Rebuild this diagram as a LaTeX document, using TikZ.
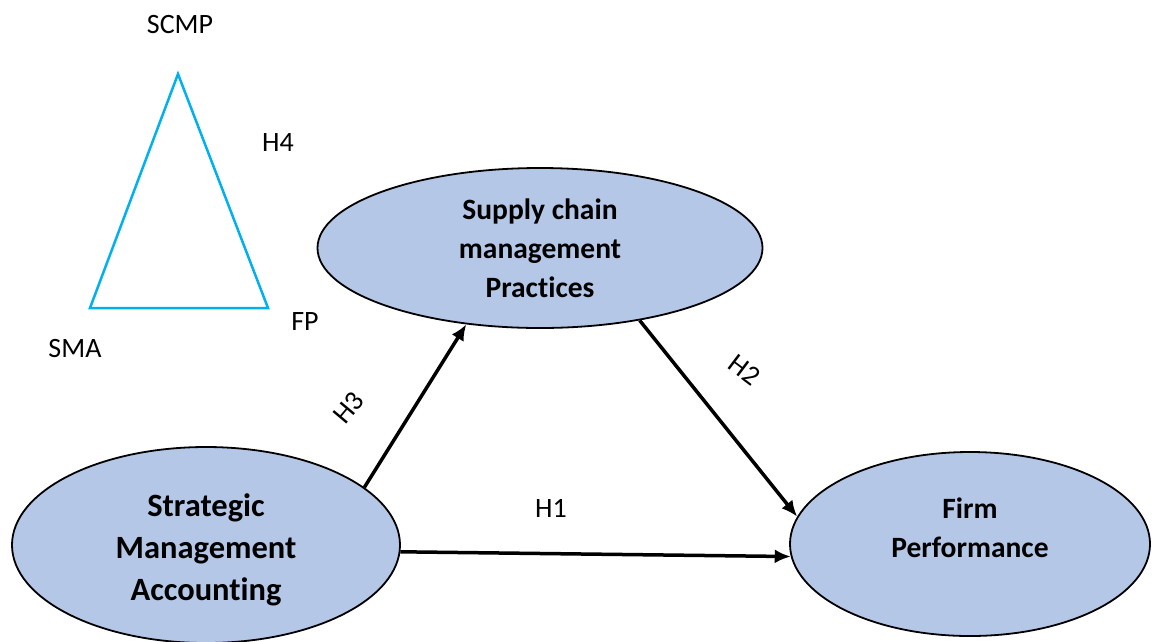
\documentclass[tikz,border=0pt]{standalone}
\usepackage{fontspec}
\setmainfont{Carlito}[Ligatures=NoCommon]
\usetikzlibrary{positioning,shapes.geometric,arrows.meta}
\definecolor{ovalfill}{RGB}{180,199,231}
\definecolor{tricyan}{RGB}{0,176,240}

\begin{document}
\begin{tikzpicture}[
  x=1pt, y=-1pt,
  var/.style={draw,ellipse,fill=ovalfill,line width=1.8pt,inner sep=0pt,align=center,
    font=\fontsize{29.5}{39}\selectfont\bfseries},
  big/.style={font=\fontsize{32.5}{42}\selectfont\bfseries},
  hyp/.style={font=\fontsize{28}{34}\selectfont},
  link/.style={line width=3.5pt,-{Latex[length=16pt,width=14pt]}},
  tri/.style={draw=tricyan,line width=2.5pt}
]
\useasboundingbox (0,0) rectangle (1155,641);

% constructs
\node[var,minimum width=445pt,minimum height=160pt] (scm) at (540,248) {Supply chain\\management\\Practices};
\node[var,minimum width=388pt,minimum height=196pt,
  label={[var,big,draw=none,fill=none,yshift=-5pt]center:Strategic\\Management\\Accounting}] (sma) at (206,545) {};
\node[var,minimum width=360pt,minimum height=184pt,
  label={[var,draw=none,fill=none,yshift=16pt]center:Firm\\Performance}] (fp) at (970,544) {};

\path
% hypotheses
(sma.20) edge[link] (scm.226)
(scm.-36) edge[link] (fp.171)
(sma.-2) edge[link] (fp.184)
;

\node[hyp] (h1) at (551,508) {H1};
\node[hyp,rotate=-37] (h2) at (745,370) {H2};
\node[hyp,rotate=50] (h3) at (349,408) {H3};

% small triangle
\coordinate (tscmp) at (178,74);
\coordinate (tsma) at (90,308);
\coordinate (tfp) at (268,308);
\draw[tri] (tscmp) -- (tsma) -- (tfp) -- cycle;

\node[hyp] (scmpl) at (180,25) {SCMP};
\node[hyp] (h4) at (278,143) {H4};
\node[hyp] (smal) at (75,348) {SMA};
\node[hyp] (fpl) at (305,322) {FP};

\end{tikzpicture}
\end{document}
